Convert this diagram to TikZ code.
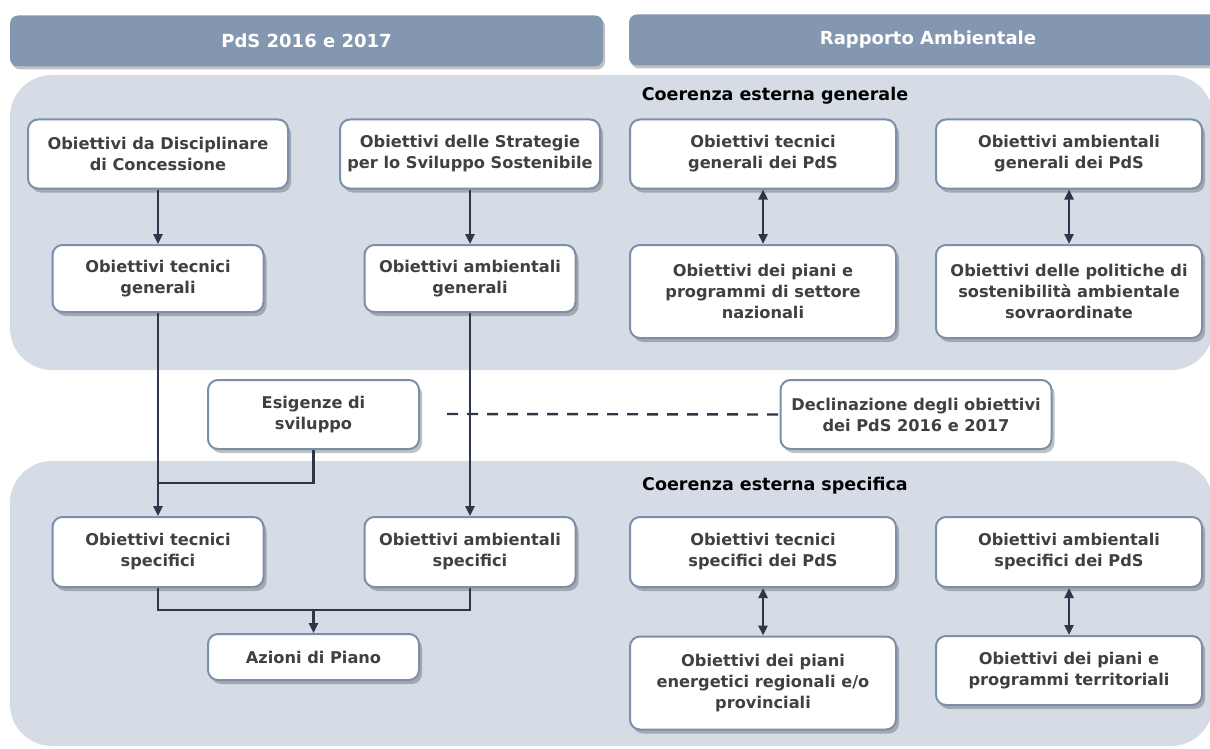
\documentclass[tikz,border=0pt]{standalone}
\usepackage{fontspec}
\setmainfont{DejaVu Sans}
\usepackage{tikz}
\usetikzlibrary{arrows.meta, positioning, calc, shadows}
\definecolor{pdsTestata}{RGB}{132, 151, 176}
\definecolor{pdsSfondo}{RGB}{214, 220, 229}
\definecolor{pdsBordo}{RGB}{124, 143, 170}
\definecolor{pdsLinea}{RGB}{44, 55, 74}
\definecolor{pdsTesto}{RGB}{64, 64, 64}

\tikzset{
    obiettivo/.style={rectangle, rounded corners=10pt, draw=pdsBordo, line width=2pt, fill=white,
        align=center, inner sep=3pt, text=pdsTesto, font=\bfseries\fontsize{16.2}{21}\selectfont,
        drop shadow={shadow xshift=3pt, shadow yshift=-4pt, opacity=0.3, fill=black!80}},
    testata/.style={rectangle, rounded corners=8pt, fill=pdsTestata, text=white,
        font=\bfseries\fontsize{18}{21}\selectfont, minimum height=51pt,
        drop shadow={shadow xshift=2pt, shadow yshift=-3pt, opacity=0.3, fill=black!80}},
    pannello/.style={fill=pdsSfondo, rounded corners=42pt},
    titolo/.style={font=\bfseries\fontsize{17.5}{21}\selectfont, text=black},
    freccia/.style={draw=pdsLinea, line width=2.4pt, -{Triangle[length=10pt, width=9pt]}},
    doppia/.style={draw=pdsLinea, line width=2.4pt, {Triangle[length=10pt, width=9pt]}-{Triangle[length=10pt, width=9pt]}},
    linea/.style={draw=pdsLinea, line width=2.4pt}
}

\begin{document}
\begin{tikzpicture}[x=1pt, y=-1pt]
    \clip (0,0) rectangle (1210,749);
    \fill[white] (0,0) rectangle (1210,749);

    % pannelli di sfondo
    \fill[pannello] (10,75) rectangle (1213,370);
    \fill[pannello] (10,461) rectangle (1213,746);

    % testate
    \node[testata, minimum width=593pt] (hPdS) at (306.5,41) {PdS 2016 e 2017};
    \node[testata, minimum width=598pt] (hRA) at (928,40) {Rapporto Ambientale};

    \node[titolo] (tGen) at (775,96) {Coerenza esterna generale};
    \node[titolo] (tSpec) at (775,486) {Coerenza esterna specifica};

    % coerenza generale
    \node[obiettivo, minimum width=260pt, minimum height=69pt] (disc) at (158,154) {Obiettivi da Disciplinare\\di Concessione};
    \node[obiettivo, minimum width=260pt, minimum height=69pt] (strat) at (470,154) {Obiettivi delle Strategie\\per lo Sviluppo Sostenibile};
    \node[obiettivo, minimum width=266pt, minimum height=69pt] (tecGenPdS) at (763,154) {Obiettivi tecnici\\generali dei PdS};
    \node[obiettivo, minimum width=266pt, minimum height=69pt] (ambGenPdS) at (1069,154) {Obiettivi ambientali\\generali dei PdS};

    \node[obiettivo, minimum width=211pt, minimum height=67pt] (tecGen) at (158,278.5) {Obiettivi tecnici\\generali};
    \node[obiettivo, minimum width=211pt, minimum height=67pt] (ambGen) at (470,278.5) {Obiettivi ambientali\\generali};
    \node[obiettivo, minimum width=266pt, minimum height=93pt] (pianiNaz) at (763,291.5) {Obiettivi dei piani e\\programmi di settore\\nazionali};
    \node[obiettivo, minimum width=266pt, minimum height=93pt] (politiche) at (1069,291.5) {Obiettivi delle politiche di\\sostenibilità ambientale\\sovraordinate};

    % fascia centrale
    \node[obiettivo, minimum width=211pt, minimum height=69pt] (esig) at (313.5,414.5) {Esigenze di\\sviluppo};
    \node[obiettivo, minimum width=271pt, minimum height=69pt] (decl) at (916,414.5) {Declinazione degli obiettivi\\dei PdS 2016 e 2017};

    % coerenza specifica
    \node[obiettivo, minimum width=211pt, minimum height=70pt] (tecSpec) at (158,552) {Obiettivi tecnici\\specifici};
    \node[obiettivo, minimum width=211pt, minimum height=70pt] (ambSpec) at (470,552) {Obiettivi ambientali\\specifici};
    \node[obiettivo, minimum width=266pt, minimum height=70pt] (tecSpecPdS) at (763,552) {Obiettivi tecnici\\specifici dei PdS};
    \node[obiettivo, minimum width=266pt, minimum height=70pt] (ambSpecPdS) at (1069,552) {Obiettivi ambientali\\specifici dei PdS};

    \node[obiettivo, minimum width=211pt, minimum height=46pt] (azioni) at (313.5,657) {Azioni di Piano};
    \node[obiettivo, minimum width=266pt, minimum height=93pt] (pianiEn) at (763,683) {Obiettivi dei piani\\energetici regionali e/o\\provinciali};
    \node[obiettivo, minimum width=266pt, minimum height=69pt] (pianiTerr) at (1069,670.5) {Obiettivi dei piani e\\programmi territoriali};

    % collegamenti
    \coordinate (innesto) at (158,483);
    \coordinate (nodoAz) at (313.5,610);
    \coordinate (inizioTratt) at (447,414);

    \draw[freccia] (disc) -- (tecGen);
    \draw[freccia] (strat) -- (ambGen);
    \draw[freccia] (tecGen) -- (tecSpec);
    \draw[freccia] (ambGen) -- (ambSpec);
    \draw[linea] (esig.south) |- (innesto);
    \draw[linea] (tecSpec.south) |- (nodoAz) -| (ambSpec.south);
    \draw[freccia] (nodoAz) -- (azioni);

    \draw[doppia] (tecGenPdS) -- (pianiNaz);
    \draw[doppia] (ambGenPdS) -- (politiche);
    \draw[doppia] (tecSpecPdS) -- (pianiEn);
    \draw[doppia] (ambSpecPdS) -- (pianiTerr);

    \draw[linea, dash pattern=on 11pt off 9pt] (inizioTratt) -- (decl.west);
\end{tikzpicture}
\end{document}
